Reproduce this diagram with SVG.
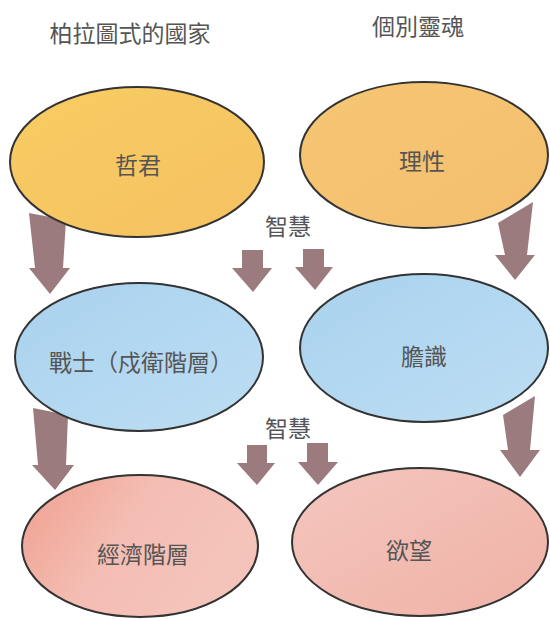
<svg xmlns="http://www.w3.org/2000/svg" width="550" height="619" viewBox="0 0 550 619">
<style>
.t{font-family:"Noto Sans CJK TC","Noto Sans CJK SC",sans-serif;fill:#555;font-size:23px;text-anchor:middle}
.n{stroke:#333;stroke-width:2}
.a{fill:#9c7b7e}
</style>
<defs>
<linearGradient id="gy" x1="0" y1="0" x2="1" y2="1"><stop offset="0" stop-color="#f8cc62"/><stop offset="1" stop-color="#f5c262"/></linearGradient>
<linearGradient id="go" x1="0" y1="0" x2="1" y2="1"><stop offset="0" stop-color="#f6c673"/><stop offset="1" stop-color="#f3bf6e"/></linearGradient>
<linearGradient id="gb" x1="0" y1="0" x2="1" y2="1"><stop offset="0" stop-color="#a9d2ee"/><stop offset="1" stop-color="#bddef4"/></linearGradient>
<linearGradient id="gp1" x1="0" y1="0" x2="1" y2="0.4"><stop offset="0" stop-color="#ef9f8f"/><stop offset="0.5" stop-color="#f4bdb3"/><stop offset="1" stop-color="#f4c4bb"/></linearGradient>
<linearGradient id="gp2" x1="0" y1="0" x2="1" y2="1"><stop offset="0" stop-color="#f4c6be"/><stop offset="1" stop-color="#f0b2a6"/></linearGradient>
</defs>
<rect width="550" height="619" fill="#fff"/>
<text class="t" x="130" y="42" font-size="24">柏拉圖式的國家</text>
<text class="t" x="418" y="35">個別靈魂</text>
<g id="connectors">
<polygon class="a" points="29,213 66,220 63,268 70,268 50,294 29,268 35,268"/>
<polygon class="a" points="242,250 263,250 263,268 272,268 253,292 232,268 242,268"/>
<polygon class="a" points="303,249 324,249 324,267 333,267 315,290 295,267 303,267"/>
<polygon class="a" points="498,223 533,202 527,255 535,255 515,280 495,255 505,255"/>
<text class="t" x="288" y="235">智慧</text>
<polygon class="a" points="33,408 68,415 66,465 74,465 55,490 32,465 38,465"/>
<polygon class="a" points="247,445 267,445 267,463 275,463 257,485 237,463 247,463"/>
<polygon class="a" points="307,443 328,443 328,462 338,462 318,485 298,462 307,462"/>
<polygon class="a" points="503,415 535,396 530,450 540,450 520,477 500,450 508,450"/>
<text class="t" x="288" y="437">智慧</text>
</g>
<g id="n1"><ellipse class="n" cx="137" cy="162" rx="127" ry="75" fill="url(#gy)"/><text class="t" x="138" y="174">哲君</text></g>
<g id="n2"><ellipse class="n" cx="424" cy="155" rx="124" ry="73" fill="url(#go)"/><text class="t" x="422" y="170">理性</text></g>
<g id="n3"><ellipse class="n" cx="139" cy="357" rx="124" ry="74" fill="url(#gb)"/><text class="t" x="141" y="371">戰士（戍衛階層）</text></g>
<g id="n4"><ellipse class="n" cx="424" cy="348" rx="124" ry="74" fill="url(#gb)"/><text class="t" x="424" y="365">膽識</text></g>
<g id="n5"><ellipse class="n" cx="140" cy="546" rx="118" ry="71" fill="url(#gp1)"/><text class="t" x="143" y="563">經濟階層</text></g>
<g id="n6"><ellipse class="n" cx="420" cy="542" rx="128" ry="74" fill="url(#gp2)"/><text class="t" x="409" y="559">欲望</text></g>
</svg>
